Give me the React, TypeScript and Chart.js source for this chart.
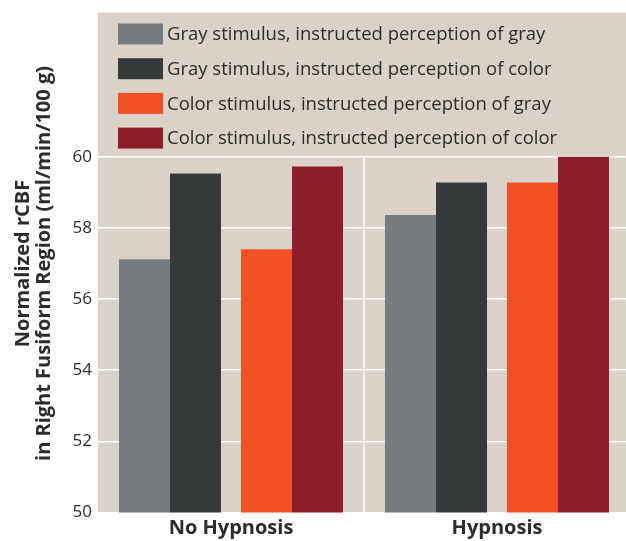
import React, { useEffect, useRef } from "react";
import { Chart, registerables } from "chart.js";

Chart.register(...registerables);

const categories = ["No Hypnosis", "Hypnosis"];
const seriesLabels = [
  "Gray stimulus, instructed perception of gray",
  "Gray stimulus, instructed perception of color",
  "Color stimulus, instructed perception of gray",
  "Color stimulus, instructed perception of color",
];
const grayGray = [57.12, 58.36];
const grayColor = [59.53, 59.28];
const colorGray = [57.4, 59.28];
const colorColor = [59.73, 60.0];
const seriesColors = ["#767b7f", "#363a3b", "#f05023", "#8b1d2c"];
const yTitle = ["Normalized rCBF", "in Right Fusiform Region (ml/min/100 g)"];
const yMin = 50;
const yTickMax = 60;
const yMax = 64;

const FONT = "'Open Sans'";
const BG = "#dad2c9";
const TEXT = "#2c2c2c";

// per-dataset slot geometry so that pairs touch with a gap between pairs
const outerCat = 0.8672;
const outerBar = 0.8844;
const innerCat = 1.0677;
const innerBar = 0.7183;

const bgPlugin = {
  id: "plotBg",
  beforeDraw(chart: any) {
    const { ctx, chartArea } = chart;
    ctx.save();
    ctx.fillStyle = BG;
    ctx.fillRect(chartArea.left, chartArea.top - 2, chartArea.right - chartArea.left, chartArea.bottom - chartArea.top + 2);
    ctx.restore();
  },
  beforeDatasetsDraw(chart: any) {
    const { ctx, chartArea, scales } = chart;
    const x = (scales.x.getPixelForValue(0) + scales.x.getPixelForValue(1)) / 2;
    const yTop = scales.y.getPixelForValue(yTickMax);
    ctx.save();
    ctx.strokeStyle = "#ffffff";
    ctx.lineWidth = 1.5;
    ctx.beginPath();
    ctx.moveTo(x, yTop);
    ctx.lineTo(x, chartArea.bottom);
    ctx.stroke();
    ctx.restore();
  },
  afterDraw(chart: any) {
    const { ctx, chartArea } = chart;
    const boxW = 45;
    const boxH = 21;
    const rowGap = 34.7;
    const x0 = chartArea.left + 20;
    const y0 = chartArea.top + 9;
    ctx.save();
    ctx.font = `18.5px ${FONT}`;
    ctx.textBaseline = "middle";
    ctx.textAlign = "left";
    chart.data.datasets.forEach((ds: any, i: number) => {
      const y = y0 + i * rowGap;
      ctx.fillStyle = ds.backgroundColor;
      ctx.fillRect(x0, y, boxW, boxH);
      ctx.fillStyle = TEXT;
      ctx.fillText(ds.label, x0 + boxW + 4, y + boxH / 2 + 1);
    });
    ctx.restore();
  },
};

export default function App() {
  const ref = useRef<HTMLCanvasElement>(null);
  useEffect(() => {
    document.body.style.margin = "0";
    const series = [grayGray, grayColor, colorGray, colorColor];
    const chart = new Chart(ref.current!, {
      type: "bar",
      data: {
        labels: categories,
        datasets: series.map((d, i) => ({
          label: seriesLabels[i],
          data: d,
          backgroundColor: seriesColors[i],
          borderWidth: 0,
          categoryPercentage: i === 0 || i === 3 ? outerCat : innerCat,
          barPercentage: i === 0 || i === 3 ? outerBar : innerBar,
        })),
      },
      options: {
        responsive: false,
        animation: false,
        layout: { padding: { top: 12, left: 0, right: 0, bottom: 0 } },
        plugins: {
          legend: { display: false },
          tooltip: { enabled: false },
        },
        scales: {
          x: {
            grid: { display: false, drawTicks: false },
            border: { display: false },
            ticks: {
              color: TEXT,
              font: { family: FONT, size: 20, weight: "bold", lineHeight: 1.2 },
              padding: 4,
            },
            afterFit(scale: any) {
              scale.height = 28.5;
            },
          },
          y: {
            min: yMin,
            max: yMax,
            grid: {
              color: (c: any) => (c.tick && c.tick.value <= yTickMax ? "#ffffff" : "rgba(0,0,0,0)"),
              lineWidth: 1.5,
              drawTicks: false,
            },
            border: { display: false },
            ticks: {
              stepSize: 2,
              color: TEXT,
              padding: 6,
              font: { family: FONT, size: 17, lineHeight: 1.0 },
              callback: (v: any) => (Number(v) <= yTickMax ? String(v) : ""),
            },
            title: {
              display: true,
              text: yTitle,
              color: TEXT,
              font: { family: FONT, size: 20, weight: "bold", lineHeight: 1.05 },
              padding: { top: 13, bottom: 0 },
            },
            afterFit(scale: any) {
              scale.width = 98;
            },
          },
        },
      },
      plugins: [bgPlugin],
    });
    return () => chart.destroy();
  }, []);
  return (
    <div style={{ position: "fixed", left: 0, top: 0, width: 626, height: 541, overflow: "hidden", background: "#fff" }}>
      <canvas ref={ref} width={630} height={541} style={{ width: 630, height: 541 }} />
    </div>
  );
}
